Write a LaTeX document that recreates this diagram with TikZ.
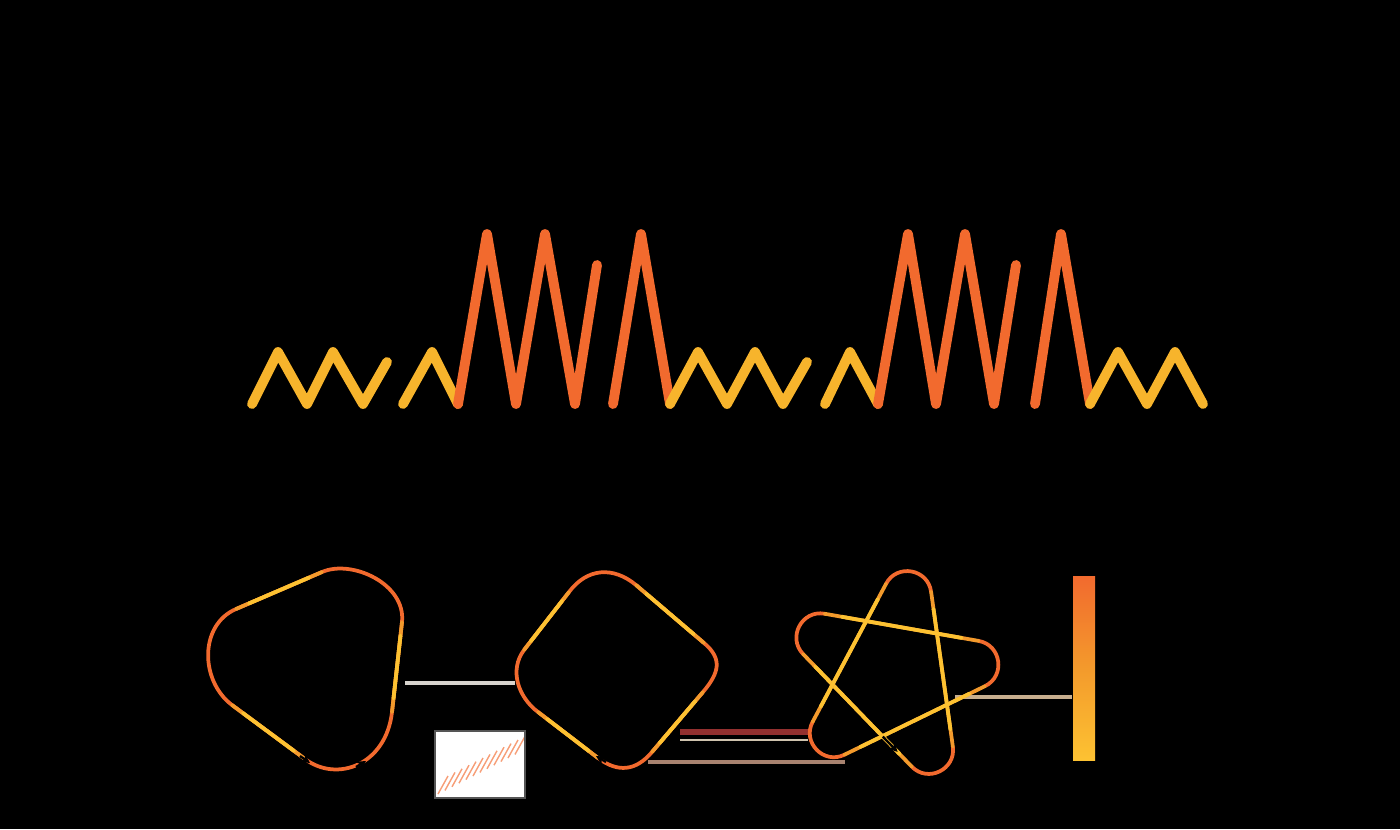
\documentclass[tikz,border=0pt]{standalone}
\usepackage{tikz}
\usetikzlibrary{arrows.meta,calc}
\definecolor{flame}  {HTML}{F26A2E}
\definecolor{amber}  {HTML}{F39A2C}
\definecolor{sun}    {HTML}{F7B42C}
\definecolor{lemon}  {HTML}{FDC232}
\definecolor{frame}  {HTML}{555555}
\definecolor{haze}   {HTML}{D8D4CE}
\definecolor{rust}   {HTML}{93302F}
\definecolor{sand}   {HTML}{CFC3AE}
\definecolor{clay}   {HTML}{A88370}
\definecolor{tan}    {HTML}{C7AE8E}

\begin{document}
\begin{tikzpicture}[x=0.03cm,y=-0.03cm,
    wave/.style={line width=8.4pt,line join=round,line cap=round},
    loopline/.style={line width=3.2pt,line cap=round},
    tipmark/.style={black,line width=2pt,-{Stealth[length=8pt,width=8pt]}},
    ghost/.style={line width=3pt}]
  \fill[black] (0,0) rectangle (1400,829);

  % signal
  \draw[wave,sun] (252,404) -- (278,352) -- (307,404) -- (333,352) -- (363,404) -- (387,362);
  \draw[wave,sun] (403,404) -- (432,352) -- (458,404);
  \draw[wave,flame] (458,404) -- (487,234) -- (516,404) -- (545,234) -- (575,404) -- (597,265);
  \draw[wave,flame] (613,404) -- (641,234) -- (670,404);
  \draw[wave,sun] (670,404) -- (698,352) -- (727,404) -- (755,352) -- (783,404) -- (807,362);
  \draw[wave,sun] (825,404) -- (850,352) -- (878,404);
  \draw[wave,flame] (878,404) -- (908,234) -- (936,404) -- (965,234) -- (994,404) -- (1016,265);
  \draw[wave,flame] (1035,404) -- (1061,234) -- (1090,404);
  \draw[wave,sun] (1090,404) -- (1118,352) -- (1147,404) -- (1175,352) -- (1203,404);

  % faint leader lines
  \draw[ghost,haze] (405,683) -- (515,683);
  \draw[ghost,rust,line width=4.5pt] (680,732) -- (808,732);
  \draw[ghost,sand,line width=2.5pt] (680,740) -- (808,740);
  \draw[ghost,clay,line width=4pt] (648,762) -- (845,762);
  \draw[ghost,tan] (955,697) -- (1072,697);

  % first loop
  \coordinate (a1) at (236,609);
  \coordinate (a2) at (322,572);
  \coordinate (a3) at (402,622);
  \coordinate (a4) at (392,712);
  \coordinate (a5) at (305,759);
  \coordinate (a6) at (232,705);
  \draw[loopline,flame] (a1) -- (a2) .. controls (352,559) and (406,584) .. (a3)
    -- (a4) .. controls (386,765) and (337,783) .. (a5)
    -- (a6) .. controls (200,681) and (199,625) .. (a1) -- cycle;
  \foreach \p/\q in {a1/a2,a3/a4,a5/a6} {
    \draw[loopline,amber] (\p) -- (\q);
    \draw[loopline,lemon] ($(\p)!0.15!(\q)$) -- ($(\p)!0.85!(\q)$);
  }
  \draw[tipmark] (300,756) -- (310,763);
  \draw[tipmark] (356,767) -- (366,761);

  % second loop
  \coordinate (b1) at (524,650);
  \coordinate (b2) at (569,592);
  \coordinate (b3) at (636,585);
  \coordinate (b4) at (704,643);
  \coordinate (b5) at (703,692);
  \coordinate (b6) at (652,752);
  \coordinate (b7) at (598,758);
  \coordinate (b8) at (538,712);
  \draw[loopline,flame] (b1) -- (b2) .. controls (587,568) and (613,566) .. (b3)
    -- (b4) .. controls (723,659) and (719,673) .. (b5)
    -- (b6) .. controls (636,771) and (618,773) .. (b7)
    -- (b8) .. controls (518,697) and (509,670) .. (b1) -- cycle;
  \foreach \p/\q in {b1/b2,b3/b4,b5/b6,b7/b8} {
    \draw[loopline,amber] (\p) -- (\q);
    \draw[loopline,lemon] ($(\p)!0.15!(\q)$) -- ($(\p)!0.85!(\q)$);
  }
  \draw[tipmark] (606,762) -- (596,756);

  % star loop
  \coordinate (sc) at (893,676);
  \foreach \i/\a in {0/-80,1/-8,2/64,3/136,4/208}
    \coordinate (s\i) at ($(sc)+(\a:160)$);
  \foreach \p/\v/\n in {3/0/2,0/2/4,2/4/1,4/1/3,1/3/0}
    \draw[loopline,flame] ($(s\v)!0.243!(s\p)$) .. controls ($(s\v)!0.167!(s\p)$)
      and ($(s\v)!0.167!(s\n)$) .. ($(s\v)!0.243!(s\n)$);
  \foreach \v/\n in {0/2,2/4,4/1,1/3,3/0} {
    \draw[loopline,amber] ($(s\v)!0.243!(s\n)$) -- ($(s\v)!0.757!(s\n)$);
    \draw[loopline,lemon] ($(s\v)!0.3!(s\n)$) -- ($(s\v)!0.7!(s\n)$);
  }
  \draw[tipmark] ($(s4)!0.62!(s2)$) -- ($(s4)!0.69!(s2)$);

  % legend box
  \begin{scope}
    \clip (435,731) rectangle (525,798);
    \fill[white] (435,731) rectangle (525,798);
    \foreach \i in {0,...,11}
      \draw[flame!65,line width=1.2pt] (438+7*\i,794-3.6*\i) -- ++(10,-18);
  \end{scope}
  \draw[frame,line width=2.5pt] (435,731) rectangle (525,798);

  % colour bar
  \shade[top color=flame,bottom color=lemon,middle color=amber] (1073,576) rectangle (1095,760);
\end{tikzpicture}
\end{document}
